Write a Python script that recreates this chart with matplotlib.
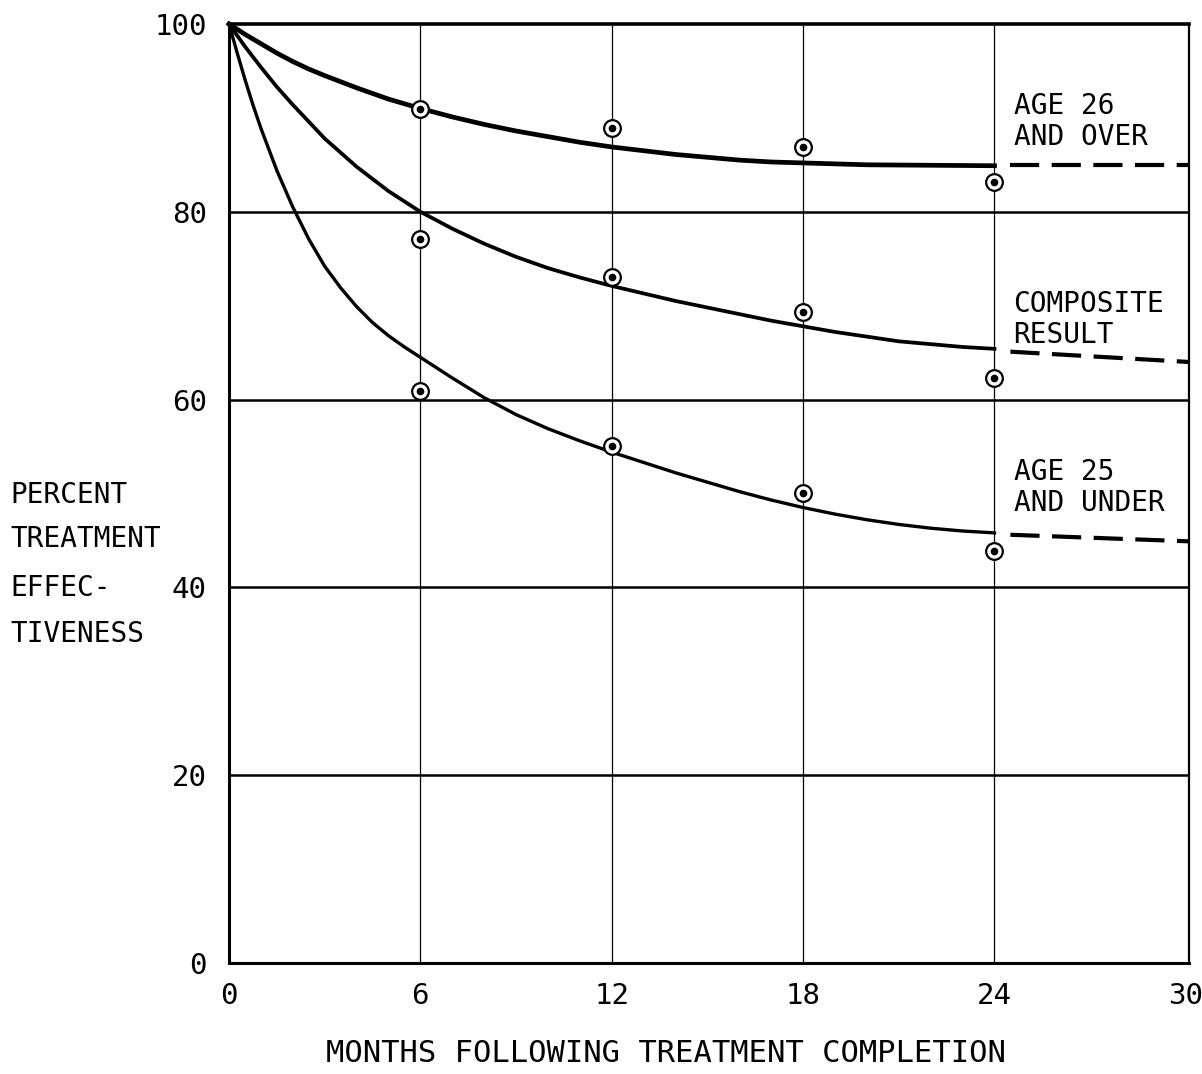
import matplotlib
matplotlib.use('Agg')
import matplotlib.pyplot as plt

plt.rcParams['font.family'] = ['DejaVu Sans Mono', 'DejaVu Sans']

# measured points (months after treatment, percent effective)
months = [6, 12, 18, 24]
over26 = [90.9, 88.9, 86.9, 83.2]
composite = [77.1, 73.1, 69.3, 62.3]
under25 = [60.9, 55.1, 50.1, 43.9]

# hand-drawn fitted curves
over26_x = [0, 0.5, 1, 1.5, 2, 2.5, 3, 4, 5, 6, 7, 8, 9, 10, 11, 12, 13, 14, 15, 16, 17, 18, 19, 20, 22, 24]
over26_y = [100, 98.9, 97.9, 96.9, 96.0, 95.2, 94.5, 93.2, 92.0, 91.0, 90.1, 89.3, 88.6, 88.0, 87.4, 86.9,
            86.5, 86.1, 85.8, 85.5, 85.3, 85.2, 85.1, 85.0, 84.95, 84.9]

composite_x = [0, 0.5, 1, 1.5, 2, 3, 4, 5, 6, 7, 8, 9, 10, 11, 12, 13, 14, 15, 16, 17, 18, 19, 20, 21, 22, 23, 24]
composite_y = [100, 97.6, 95.4, 93.3, 91.4, 87.8, 84.8, 82.2, 80.0, 78.2, 76.6, 75.2, 74.0, 73.0, 72.1,
               71.3, 70.5, 69.8, 69.1, 68.4, 67.8, 67.2, 66.7, 66.2, 65.9, 65.6, 65.4]

under25_x = [0, 0.25, 0.5, 0.75, 1, 1.5, 2, 2.5, 3, 3.5, 4, 4.5, 5, 5.5, 6, 7, 8, 9, 10, 11, 12, 13, 14,
             15, 16, 17, 18, 19, 20, 21, 22, 23, 24]
under25_y = [100, 97.0, 94.1, 91.4, 88.9, 84.4, 80.5, 77.1, 74.2, 71.9, 69.9, 68.2, 66.8, 65.6, 64.5,
             62.3, 60.2, 58.4, 56.9, 55.6, 54.4, 53.3, 52.2, 51.2, 50.2, 49.3, 48.5, 47.8, 47.2, 46.7,
             46.3, 46.0, 45.8]

# projected (dashed) extensions
ext_x = [24.5, 30.1]
over26_ext = [85.0, 85.0]
composite_ext = [65.1, 64.0]
under25_ext = [45.6, 44.9]

labels = [("AGE 26", "AND OVER", 91.3, 88.0),
          ("COMPOSITE", "RESULT", 70.2, 66.9),
          ("AGE 25", "AND UNDER", 52.3, 49.0)]

fig = plt.figure(figsize=(12.02, 10.74), dpi=100)
ax = fig.add_axes([0.1905, 0.1034, 0.7987, 0.8743])
ax.set_xlim(0, 30.1)
ax.set_ylim(0, 100)

for y in [20, 40, 60, 80]:
    ax.axhline(y, color='black', lw=1.8, zorder=1)
for x in [6, 12, 18, 24]:
    ax.axvline(x, color='black', lw=0.9, zorder=1)

ax.plot(over26_x, over26_y, color='black', lw=3.4, clip_on=False, zorder=3, solid_joinstyle='round')
ax.plot(composite_x, composite_y, color='black', lw=2.7, clip_on=False, zorder=3, solid_joinstyle='round')
ax.plot(under25_x, under25_y, color='black', lw=2.4, clip_on=False, zorder=3, solid_joinstyle='round')

for ys in [over26_ext, composite_ext, under25_ext]:
    ax.plot(ext_x, ys, color='black', lw=3, dashes=(7, 3), clip_on=False, zorder=3)

for vals in [over26, composite, under25]:
    ax.plot(months, vals, 'o', ms=12, mfc='white', mec='black', mew=1.6, zorder=4)
    ax.plot(months, vals, 'o', ms=4.5, color='black', zorder=5)

for top, bottom, y1, y2 in labels:
    ax.text(24.6, y1, top, fontsize=20, va='center', ha='left')
    ax.text(24.6, y2, bottom, fontsize=20, va='center', ha='left')

ax.spines['top'].set_linewidth(2.6)
ax.spines['left'].set_linewidth(2.2)
ax.spines['bottom'].set_linewidth(2.2)
ax.spines['right'].set_linewidth(1.6)

ax.set_xticks([0, 6, 12, 18, 24, 30])
ax.set_yticks([0, 20, 40, 60, 80, 100])
ax.tick_params(length=0, labelsize=21)
ax.tick_params(axis='y', pad=16)
ax.tick_params(axis='x', pad=14)

fig.text(666 / 1202, 1 - 1053 / 1074, "MONTHS FOLLOWING TREATMENT COMPLETION",
         fontsize=22, ha='center', va='center')

for text, ypix in [("PERCENT", 495), ("TREATMENT", 539), ("EFFEC-", 588), ("TIVENESS", 634)]:
    fig.text(10 / 1202, 1 - ypix / 1074, text, fontsize=20, ha='left', va='center')

fig.savefig('out.png', dpi=100, facecolor='white')
